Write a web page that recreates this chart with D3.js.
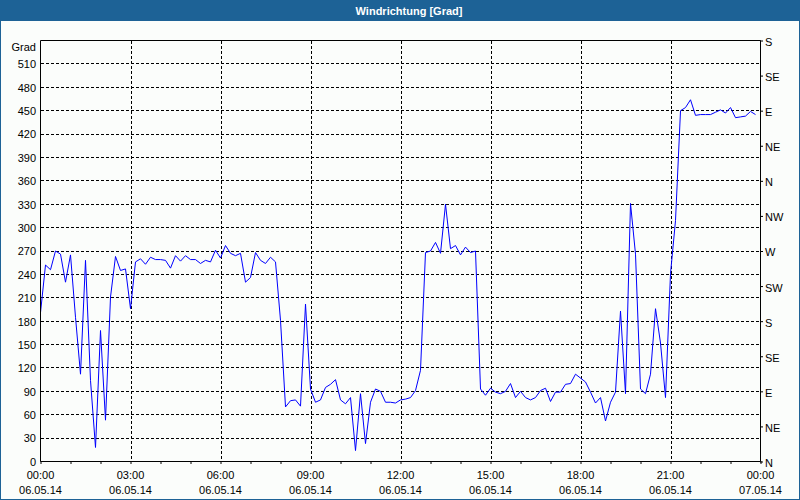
<!DOCTYPE html>
<html><head><meta charset="utf-8">
<script src="https://cdn.jsdelivr.net/npm/d3@7"></script>
<style>
html,body{margin:0;padding:0;background:#fbfdfb;}
svg{display:block;}
text{font-family:"Liberation Sans",Arial,sans-serif;font-size:11px;fill:#000;}
</style></head><body>
<script>
const title = "Windrichtung [Grad]";
const yUnit = "Grad";
// wind direction values, 10-minute intervals starting 06.05.14 00:00
const values = [
191,252,246,270,266,230,265,185,112,258,104,18,168,53,211,263,245,247,196,256,
260,253,262,259,259,258,248,264,257,264,259,259,254,258,256,271,261,277,267,264,
267,230,236,268,258,254,262,256,181,70,78,79,71,202,93,76,79,95,99,105,
79,74,82,14,87,23,76,93,90,76,76,75,79,80,82,91,117,268,270,281,
267,330,273,277,265,275,268,270,93,85,94,89,87,90,100,82,90,82,79,82,
91,94,77,89,89,99,100,112,107,102,89,75,82,52,76,89,193,87,331,266,
93,87,112,196,152,82,241,309,450,454,464,444,445,445,445,448,451,447,454,441,
442,443,449,445
];
const startTime = new Date(2014,4,6,0,0);
const endTime = new Date(2014,4,7,0,0);
const stepMinutes = 10;
const leftTicks = [0,30,60,90,120,150,180,210,240,270,300,330,360,390,420,450,480,510];
const rightTicks = [0,45,90,135,180,225,270,315,360,405,450,495,540];
const rightLabels = ["N","NE","E","SE","S","SW","W","NW","N","NE","E","SE","S"];

const W=800,H=500;
const svg=d3.select("body").append("svg").attr("width",W).attr("height",H);
svg.append("rect").attr("x",0).attr("y",0).attr("width",W).attr("height",H).attr("fill","#fbfdfb");
svg.append("rect").attr("x",0.5).attr("y",0.5).attr("width",W-1).attr("height",H-1).attr("fill","none").attr("stroke","#1d6296");
svg.append("rect").attr("x",0).attr("y",0).attr("width",W).attr("height",21).attr("fill","#1d6296");
svg.append("text").attr("x",409).attr("y",15).attr("text-anchor","middle")
  .style("fill","#fff").style("font-weight","bold").style("font-size","11px").text(title);

const x=d3.scaleTime().domain([startTime,endTime]).range([40.5,760.5]);
const y=d3.scaleLinear().domain([0,540]).range([461.5,40.5]);

// grid
const g=svg.append("g");
const vTimes=d3.timeHour.every(3).range(startTime,endTime).slice(1);
g.selectAll(".vg").data(vTimes).enter().append("line")
  .attr("x1",d=>Math.round(x(d))+0.5).attr("x2",d=>Math.round(x(d))+0.5)
  .attr("y1",41).attr("y2",461).attr("stroke","#000").attr("stroke-dasharray","3,2");
g.selectAll(".hg").data(leftTicks.slice(1)).enter().append("line")
  .attr("x1",41).attr("x2",760).attr("y1",d=>Math.round(y(d)-0.5)+0.5).attr("y2",d=>Math.round(y(d)-0.5)+0.5)
  .attr("stroke","#000").attr("stroke-dasharray","3,2");

// data line
const line=d3.line().x((d,i)=>x(d3.timeMinute.offset(startTime,i*stepMinutes))).y(d=>y(d));
svg.append("path").datum(values).attr("d",line).attr("fill","none").attr("stroke","#0000ff").attr("stroke-width",1);

// top frame
svg.append("line").attr("x1",40.5).attr("x2",760.5).attr("y1",40.5).attr("y2",40.5).attr("stroke","#000");
// bottom axis
const xAxis=d3.axisBottom(x).ticks(d3.timeHour.every(1)).tickSize(3).tickFormat("");
svg.append("g").attr("transform","translate(0,461)").call(xAxis).call(s=>s.select(".domain").attr("d","M40.5,0.5H760.5"));
const lab=svg.append("g");
const labTimes=d3.timeHour.every(3).range(startTime,d3.timeMinute.offset(endTime,1));
const fT=d3.timeFormat("%H:%M"), fD=d3.timeFormat("%d.%m.%y");
labTimes.forEach(t=>{
  lab.append("text").attr("x",x(t)).attr("y",479).attr("text-anchor","middle").text(fT(t));
  lab.append("text").attr("x",x(t)).attr("y",494).attr("text-anchor","middle").text(fD(t));
});
// left axis
const yAxisL=d3.axisLeft(y).tickValues(leftTicks).tickSize(0).tickPadding(4);
svg.append("g").attr("transform","translate(40,0)").call(yAxisL)
  .call(s=>{s.select(".domain").attr("d","M0.5,40.5V461.5").attr("stroke","#000");
    s.selectAll("text").style("font-family",'"Liberation Sans",Arial,sans-serif').style("font-size","11px").attr("dy","0.35em");});
svg.append("text").attr("x",36).attr("y",51).attr("text-anchor","end").text(yUnit);
// right axis
const yAxisR=d3.axisRight(y).tickValues(rightTicks).tickSize(3).tickPadding(2)
  .tickFormat((d,i)=>rightLabels[i]);
svg.append("g").attr("transform","translate(760,0)").call(yAxisR)
  .call(s=>{s.select(".domain").attr("d","M0.5,40.5V461.5").attr("stroke","#000");
    s.selectAll("text").style("font-family",'"Liberation Sans",Arial,sans-serif').style("font-size","11px").attr("dy","0.45em");});
</script></body></html>
